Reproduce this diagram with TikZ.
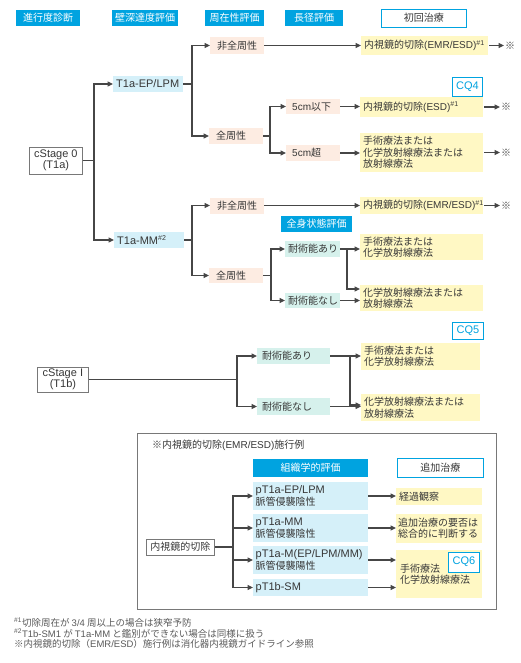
\documentclass[tikz,border=0pt]{standalone}
\usepackage{fontspec}
\setmainfont{Noto Sans CJK JP}
\newfontfamily\lat{Liberation Sans}
\usetikzlibrary{arrows.meta}
\definecolor{cy}{RGB}{0,163,224}
\definecolor{lb}{RGB}{213,240,249}
\definecolor{pe}{RGB}{253,236,226}
\definecolor{mi}{RGB}{214,241,236}
\definecolor{yl}{RGB}{255,248,196}
\definecolor{tx}{RGB}{55,55,55}
\definecolor{lnc}{RGB}{70,70,70}
\definecolor{fr}{RGB}{120,120,120}
\definecolor{ft}{RGB}{90,90,90}
\newcommand{\myfs}{\fontsize{10}{11.4}\selectfont}
\newcommand{\La}[1]{{\lat #1}}
\newcommand{\Lb}[1]{{\lat\fontsize{11}{12}\selectfont #1}}
\newcommand{\sups}[1]{{\lat\textsuperscript{\##1}}}
\begin{document}
\begin{tikzpicture}[x=1pt,y=-1pt,
 every node/.style={inner xsep=3pt,inner ysep=0pt,font=\myfs,text=tx},
 hdr/.style={fill=cy,text=white},
 hdrw/.style={draw=cy,line width=0.9pt,fill=white},
 stg/.style={draw=fr,line width=0.8pt,fill=white,align=center},
 cqb/.style={draw=cy,line width=0.8pt,fill=white,text=cy},
 bl/.style={fill=lb,align=left},
 pc/.style={fill=pe,align=left,inner xsep=7pt,text width=40pt},
 mt/.style={fill=mi,align=left},
 ye/.style={fill=yl,align=left},
 con/.style={draw=lnc,line width=1.1pt},
 arr/.style={con,-{Triangle[length=5.5pt,width=5pt]}},
 mk/.style={inner xsep=0pt,text=lnc,anchor=west},
 fnt/.style={anchor=west,inner xsep=0pt,font=\fontsize{9.5}{11}\selectfont,text=ft},
]
\fill[white] (0,0) rectangle (521,663);
\useasboundingbox (0,0) rectangle (521,663);

% headers
\node[hdr,anchor=west,minimum width=64pt,minimum height=16pt] (h1) at (16,18) {進行度診断};
\node[hdr,anchor=west,minimum width=65pt,minimum height=16pt] (h2) at (112,18) {壁深達度評価};
\node[hdr,anchor=west,minimum width=59pt,minimum height=16pt] (h3) at (205,18) {周在性評価};
\node[hdr,anchor=west,minimum width=58pt,minimum height=16pt] (h4) at (285,18) {長径評価};
\node[hdrw,anchor=west,minimum width=85pt,minimum height=18pt] (h5) at (381,18) {初回治療};

% cStage 0
\node[stg,anchor=west,minimum width=53pt,minimum height=27pt] (s0) at (29,160.5) {\Lb{cStage 0}\\\Lb{(T1a)}};
\node[bl,anchor=west,text width=64pt,minimum height=16pt] (ep) at (113,84) {\Lb{T1a-EP/LPM}};
\node[bl,anchor=west,text width=64pt,minimum height=16pt] (mm) at (114,240) {\Lb{T1a-MM}\sups{2}};

\node[pc,anchor=west,minimum height=17pt] (nf1) at (210,45.5) {非全周性};
\node[pc,anchor=west,minimum height=16pt] (zf1) at (209,136) {全周性};
\node[pc,anchor=west,inner xsep=6pt,text width=42pt,minimum height=15pt] (l5) at (286,106.5) {\La{5cm}以下};
\node[pc,anchor=west,inner xsep=6pt,text width=42pt,minimum height=16pt] (g5) at (286,153) {\La{5cm}超};

\node[ye,anchor=west,text width=121pt,minimum height=19pt] (y1) at (361,45.5) {内視鏡的切除\La{(EMR/ESD)}\sups{1}};
\node[ye,anchor=west,text width=117pt,minimum height=20pt] (y2) at (360,107) {内視鏡的切除\La{(ESD)}\sups{1}};
\node[ye,anchor=west,text width=117pt,minimum height=39pt] (y3) at (360,152.5) {手術療法または\\化学放射線療法または\\放射線療法};
\node[cqb,anchor=west,minimum width=30pt,minimum height=19pt] (cq4) at (452,86.5) {\Lb{CQ4}};

\node[pc,anchor=west,minimum height=16pt] (nf2) at (210,205.5) {非全周性};
\node[ye,anchor=west,text width=117pt,minimum height=17pt] (y4) at (360,205.5) {内視鏡的切除\La{(EMR/ESD)}\sups{1}};
\node[hdr,anchor=west,minimum width=71pt,minimum height=16pt] (zs) at (281,224) {全身状態評価};
\node[pc,anchor=west,minimum height=15pt] (zf2) at (209,275.5) {全周性};
\node[mt,anchor=west,text width=49pt,minimum height=16pt] (ta1) at (285,249) {耐術能あり};
\node[mt,anchor=west,text width=49pt,minimum height=15pt] (tn1) at (285,300.5) {耐術能なし};
\node[ye,anchor=west,text width=117pt,minimum height=26pt] (y5) at (360,247) {手術療法または\\化学放射線療法};
\node[ye,anchor=west,text width=117pt,minimum height=26pt] (y6) at (360,298) {化学放射線療法または\\放射線療法};

\node[mk] (sx1) at (505,45.5) {※};
\node[mk] (sx2) at (501,107) {※};
\node[mk] (sx3) at (501,152.5) {※};
\node[mk] (sx4) at (501,205.5) {※};

% cStage I
\node[stg,anchor=west,minimum width=51pt,minimum height=25pt] (s1) at (37,379.5) {\Lb{cStage I}\\\Lb{(T1b)}};
\node[mt,anchor=west,inner xsep=5pt,text width=63pt,minimum height=16pt] (ta2) at (257,356) {耐術能あり};
\node[mt,anchor=west,inner xsep=5pt,text width=63pt,minimum height=17pt] (tn2) at (257,406.5) {耐術能なし};
\node[ye,anchor=west,text width=113pt,minimum height=27pt] (y7) at (361,356.5) {手術療法または\\化学放射線療法};
\node[ye,anchor=west,text width=113pt,minimum height=27pt] (y8) at (361,407.5) {化学放射線療法または\\放射線療法};
\node[cqb,anchor=west,minimum width=31pt,minimum height=17pt] (cq5) at (452,330.5) {\Lb{CQ5}};

% connectors upper
\coordinate (j0) at (94,160.5);
\draw[con] (s0.east) -- (j0);
\draw[arr] (j0) |- (ep.west);
\draw[arr] (j0) |- (mm.west);
\coordinate (j1) at (192,84);
\draw[con] (ep.east) -- (j1);
\draw[arr] (j1) |- (nf1.west);
\draw[arr] (j1) |- (zf1.west);
\coordinate (j2) at (192,240);
\draw[con] (mm.east) -- (j2);
\draw[arr] (j2) |- (nf2.west);
\draw[arr] (j2) |- (zf2.west);
\draw[arr] (nf1.east) -- (nf1.east -| y1.west);
\draw[arr,shorten <=1pt,shorten >=1pt] (y1) -- (sx1);
\coordinate (j3) at (270,136);
\draw[con] (zf1.east) -- (j3);
\draw[arr] (j3) |- (l5.west);
\draw[arr] (j3) |- (g5.west);
\draw[arr] (l5.east) -- (l5.east -| y2.west);
\draw[arr] (g5.east) -- (g5.east -| y3.west);
\draw[arr,shorten <=1pt,shorten >=1pt] (y2) -- (sx2);
\draw[arr,shorten <=1pt,shorten >=1pt] (y3) -- (sx3);
\draw[arr] (nf2.east) -- (nf2.east -| y4.west);
\draw[arr,shorten <=1pt,shorten >=1pt] (y4) -- (sx4);
\coordinate (j4) at (271,275.5);
\draw[con] (zf2.east) -- (j4);
\draw[arr] (j4) |- (ta1.west);
\draw[arr] (j4) |- (tn1.west);
\draw[arr] (ta1.east) -- (ta1.east -| y5.west);
\coordinate (j5) at (347,249);
\draw[arr] (j5) |- ([yshift=9pt]y6.west);
\draw[arr] (tn1.east) -- (tn1.east -| y6.west);

\coordinate (j6) at (237,379.5);
\draw[con] (s1.east) -- (j6);
\draw[arr] (j6) |- (ta2.west);
\draw[arr] (j6) |- (tn2.west);
\draw[arr] (ta2.east) -- (ta2.east -| y7.west);
\coordinate (j7) at (350,356);
\draw[arr] (j7) |- ([yshift=1.5pt]tn2.east -| y8.west);
\draw[arr] (tn2.east) -- (tn2.east -| y8.west);

% lower frame
\node[draw=fr,line width=0.8pt,anchor=north west,minimum width=359pt,minimum height=176pt] (frame) at (137,433) {};
\node[anchor=west,inner xsep=0pt] (ttl) at (152,445) {※内視鏡的切除\La{(EMR/ESD)}施行例};
\node[hdr,anchor=west,minimum width=115pt,minimum height=18pt] (kh) at (253,468) {組織学的評価};
\node[hdrw,anchor=west,minimum width=86pt,minimum height=19pt] (tc) at (397,467.5) {追加治療};
\node[bl,anchor=west,inner xsep=2.5pt,text width=110pt,minimum height=28pt] (p1) at (253,496) {\Lb{pT1a-EP/LPM}\\脈管侵襲陰性};
\node[bl,anchor=west,inner xsep=2.5pt,text width=110pt,minimum height=28pt] (p2) at (253,528) {\Lb{pT1a-MM}\\脈管侵襲陰性};
\node[bl,anchor=west,inner xsep=2.5pt,text width=110pt,minimum height=28pt] (p3) at (253,560) {\Lb{pT1a-M(EP/LPM/MM)}\\脈管侵襲陽性};
\node[bl,anchor=west,inner xsep=2.5pt,text width=110pt,minimum height=17pt] (p4) at (253,587.5) {\Lb{pT1b-SM}};
\node[stg,anchor=west,minimum width=68pt,minimum height=16pt] (ne) at (146,547) {内視鏡的切除};
\node[ye,anchor=west,text width=80pt,minimum height=17pt] (r1) at (396,496.5) {経過観察};
\node[ye,anchor=west,inner xsep=2pt,text width=82pt,minimum height=29pt] (r2) at (396,528.5) {追加治療の要否は\\総合的に判断する};
\node[ye,anchor=west,inner xsep=4pt,text width=78pt,minimum height=48pt] (r3) at (396,574) {手術療法\\化学放射線療法};
\node[cqb,anchor=west,minimum width=31pt,minimum height=20pt] (cq6) at (448,562) {\Lb{CQ6}};

\coordinate (j8) at (233,547);
\draw[con] (ne.east) -- (j8);
\draw[arr] (j8) |- (p1.west);
\draw[arr] (j8) |- (p2.west);
\draw[arr] (j8) |- (p3.west);
\draw[arr] (j8) |- (p4.west);
\draw[arr] (p1.east) -- (p1.east -| r1.west);
\draw[arr] (p2.east) -- (p2.east -| r2.west);
\draw[arr] (p3.east) -- (p3.east -| r3.west);
\draw[arr] (p4.east) -- (p4.east -| r3.west);

% footnotes
\node[fnt] (fn1) at (14,623) {\sups{1}切除周在が \La{3/4} 周以上の場合は狭窄予防};
\node[fnt] (fn2) at (14,633.5) {\sups{2}\La{T1b-SM1} が \La{T1a-MM} と鑑別ができない場合は同様に扱う};
\node[fnt] (fn3) at (14,644) {※内視鏡的切除（\La{EMR/ESD}）施行例は消化器内視鏡ガイドライン参照};
\end{tikzpicture}
\end{document}
